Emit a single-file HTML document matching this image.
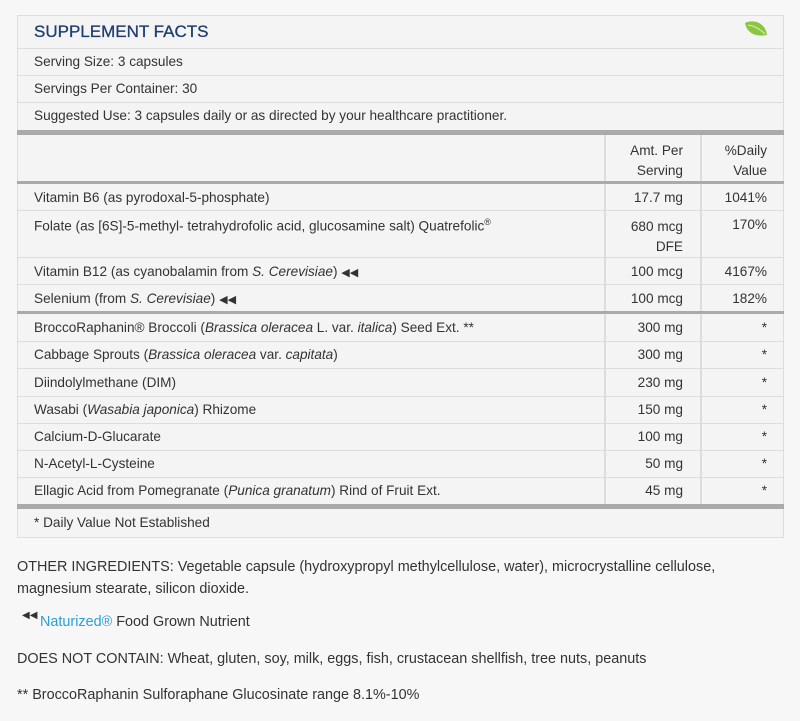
<!DOCTYPE html>
<html><head><meta charset="utf-8"><style>
*{margin:0;padding:0;box-sizing:border-box}
body{width:800px;height:721px;background:#f7f7f7;font-family:"Liberation Sans",sans-serif;color:#333;font-size:13.6px;position:relative;overflow:hidden}
.box{position:absolute;left:17px;top:15px;width:767px;height:523px;background:#f4f4f4;border:1px solid #ddd}
.r{position:absolute;left:17px;width:767px;border-top:1px solid #ddd}
.t{position:absolute;left:17px;white-space:nowrap}
.a{position:absolute;right:117px;text-align:right;white-space:nowrap}
.d{position:absolute;right:33px;text-align:right;white-space:nowrap}
.th{position:absolute;left:17px;width:767px;background:#aaa}
.v{position:absolute;width:2px;background:#ddd}
.x{position:absolute;left:17px;white-space:nowrap;font-size:14.4px}
i{font-style:italic}
.ar{font-size:11px}
</style></head><body>
<div class="box"></div>
<div class="t" style="left:34px;top:22px;font-size:17px;color:#1f3d6e;-webkit-text-stroke:0.3px #1f3d6e">SUPPLEMENT FACTS</div>
<svg style="position:absolute;left:743px;top:20px" width="26" height="20" viewBox="0 0 26 20"><path d="M2 3 C10 -1 22 2 24 15 C14 17 4 14 2 3Z" fill="#8cc63f"/><path d="M5 5 C12 6 18 10 22 14" stroke="#d8eec0" stroke-width="1" fill="none"/></svg>
<div class="r" style="top:48px"></div>
<div class="t" style="left:34px;top:54px">Serving Size: 3 capsules</div>
<div class="r" style="top:75px"></div>
<div class="t" style="left:34px;top:81px">Servings Per Container: 30</div>
<div class="r" style="top:102px"></div>
<div class="t" style="left:34px;top:108px">Suggested Use: 3 capsules daily or as directed by your healthcare practitioner.</div>
<div class="th" style="top:130px;height:5px"></div>
<div class="v" style="left:604px;top:135px;height:369px"></div>
<div class="v" style="left:700px;top:135px;height:369px"></div>
<div class="a" style="top:141px;line-height:20px">Amt. Per<br>Serving</div>
<div class="d" style="top:141px;line-height:20px">%Daily<br>Value</div>
<div class="th" style="top:181px;height:3px"></div>
<div class="t" style="left:34px;top:190px">Vitamin B6 (as pyrodoxal-5-phosphate)</div><div class="a" style="top:190px">17.7 mg</div><div class="d" style="top:190px">1041%</div>
<div class="r" style="top:210px"></div>
<div class="t" style="left:34px;top:217px">Folate (as [6S]-5-methyl- tetrahydrofolic acid, glucosamine salt) Quatrefolic<sup style="font-size:9px">®</sup></div><div class="a" style="top:217px;line-height:20px">680 mcg<br>DFE</div><div class="d" style="top:217px">170%</div>
<div class="r" style="top:257px"></div>
<div class="t" style="left:34px;top:264px">Vitamin B12 (as cyanobalamin from <i>S. Cerevisiae</i>) <span class="ar">◀◀</span></div><div class="a" style="top:264px">100 mcg</div><div class="d" style="top:264px">4167%</div>
<div class="r" style="top:284px"></div>
<div class="t" style="left:34px;top:291px">Selenium (from <i>S. Cerevisiae</i>) <span class="ar">◀◀</span></div><div class="a" style="top:291px">100 mcg</div><div class="d" style="top:291px">182%</div>
<div class="th" style="top:311px;height:3px"></div>
<div class="t" style="left:34px;top:320px">BroccoRaphanin® Broccoli (<i>Brassica oleracea</i> L. var. <i>italica</i>) Seed Ext. **</div><div class="a" style="top:320px">300 mg</div><div class="d" style="top:320px">*</div>
<div class="r" style="top:341px"></div>
<div class="t" style="left:34px;top:347px">Cabbage Sprouts (<i>Brassica oleracea</i> var. <i>capitata</i>)</div><div class="a" style="top:347px">300 mg</div><div class="d" style="top:347px">*</div>
<div class="r" style="top:368px"></div>
<div class="t" style="left:34px;top:375px">Diindolylmethane (DIM)</div><div class="a" style="top:375px">230 mg</div><div class="d" style="top:375px">*</div>
<div class="r" style="top:396px"></div>
<div class="t" style="left:34px;top:402px">Wasabi (<i>Wasabia japonica</i>) Rhizome</div><div class="a" style="top:402px">150 mg</div><div class="d" style="top:402px">*</div>
<div class="r" style="top:423px"></div>
<div class="t" style="left:34px;top:429px">Calcium-D-Glucarate</div><div class="a" style="top:429px">100 mg</div><div class="d" style="top:429px">*</div>
<div class="r" style="top:450px"></div>
<div class="t" style="left:34px;top:456px">N-Acetyl-L-Cysteine</div><div class="a" style="top:456px">50 mg</div><div class="d" style="top:456px">*</div>
<div class="r" style="top:477px"></div>
<div class="t" style="left:34px;top:483px">Ellagic Acid from Pomegranate (<i>Punica granatum</i>) Rind of Fruit Ext.</div><div class="a" style="top:483px">45 mg</div><div class="d" style="top:483px">*</div>
<div class="th" style="top:504px;height:5px"></div>
<div class="t" style="left:34px;top:515px">* Daily Value Not Established</div>
<div class="x" style="top:556px;line-height:22px">OTHER INGREDIENTS: Vegetable capsule (hydroxypropyl methylcellulose, water), microcrystalline cellulose,<br>magnesium stearate, silicon dioxide.</div>
<div class="x" style="left:22px;top:610px;font-size:10px">◀◀</div>
<div class="x" style="left:40px;top:614px"><span style="color:#2a9fd6">Naturized®</span> Food Grown Nutrient</div>
<div class="x" style="top:651px">DOES NOT CONTAIN: Wheat, gluten, soy, milk, eggs, fish, crustacean shellfish, tree nuts, peanuts</div>
<div class="x" style="top:687px">** BroccoRaphanin Sulforaphane Glucosinate range 8.1%-10%</div>
</body></html>
